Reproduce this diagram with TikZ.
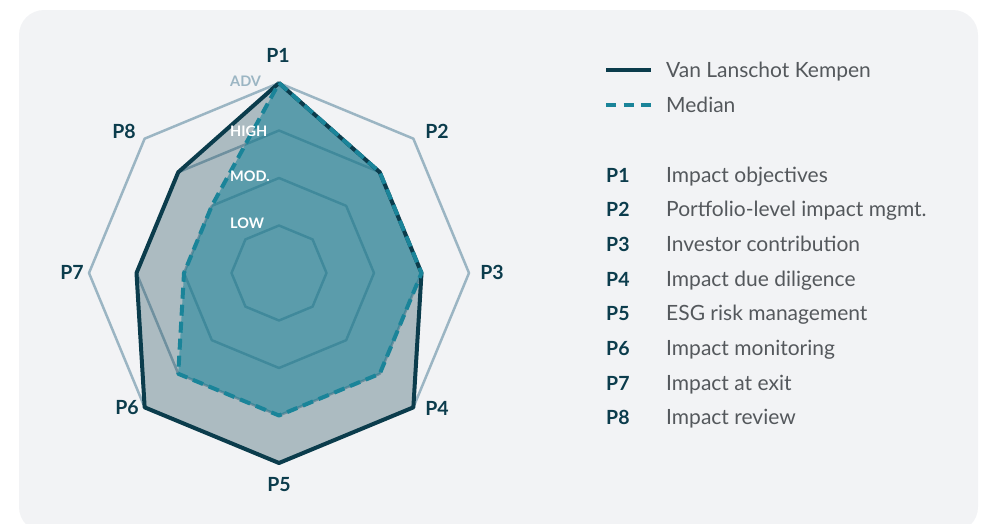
\documentclass[tikz,border=0pt]{standalone}
\usepackage{fontspec}
\setmainfont{Lato}
\usetikzlibrary{calc}
\definecolor{bg}{HTML}{F2F3F5}
\definecolor{dk}{HTML}{0B3C4C}
\definecolor{tl}{HTML}{1A8499}
\definecolor{gridc}{HTML}{9BB5C3}
\definecolor{txt}{HTML}{54585C}
\tikzset{
  gridline/.style={draw=gridc, line width=2.5pt, line join=round},
  vlkfill/.style={fill=dk, fill opacity=0.3},
  medfill/.style={fill=tl, fill opacity=0.55},
  vlkline/.style={draw=dk, line width=4pt, line join=round},
  medline/.style={draw=tl, line width=4pt, dash pattern=on 11pt off 6pt, line join=round},
  axlab/.style={font=\fontsize{19.5}{22}\selectfont\bfseries, text=dk, inner sep=0pt},
  lvlab/.style={font=\fontsize{14.5}{16}\selectfont\bfseries, anchor=base west, inner sep=0pt},
  legkey/.style={font=\fontsize{19.5}{22}\selectfont\bfseries, text=dk, anchor=base west, inner sep=0pt},
  legtxt/.style={font=\fontsize{21}{24}\selectfont, text=txt, anchor=base west, inner sep=0pt}
}
\begin{document}
\begin{tikzpicture}[x=1pt,y=1pt]
\useasboundingbox (0,0) rectangle (982,-523);
\fill[bg, rounded corners=25pt] (19,-10) rectangle (978,-532);
\coordinate (C) at (279,-273);
% grid
\foreach \k in {1,2,3,4}{
  \draw[gridline] ($(C)+(90:47.5*\k)$)
    \foreach \a in {45,0,-45,-90,-135,180,135}{ -- ($(C)+(\a:47.5*\k)$) } -- cycle;
}
% data points
\path ($(C)+(90:190)$) coordinate (v1)
      ($(C)+(45:142.5)$) coordinate (v2)
      ($(C)+(0:142.5)$) coordinate (v3)
      ($(C)+(-45:190)$) coordinate (v4)
      ($(C)+(-90:190)$) coordinate (v5)
      ($(C)+(-135:190)$) coordinate (v6)
      ($(C)+(180:142.5)$) coordinate (v7)
      ($(C)+(135:142.5)$) coordinate (v8);
\path ($(C)+(90:190)$) coordinate (m1)
      ($(C)+(45:142.5)$) coordinate (m2)
      ($(C)+(0:142.5)$) coordinate (m3)
      ($(C)+(-45:142.5)$) coordinate (m4)
      ($(C)+(-90:142.5)$) coordinate (m5)
      ($(C)+(-135:142.5)$) coordinate (m6)
      ($(C)+(180:95)$) coordinate (m7)
      ($(C)+(135:95)$) coordinate (m8);
\fill[vlkfill] (v1)--(v2)--(v3)--(v4)--(v5)--(v6)--(v7)--(v8)--cycle;
\fill[medfill] (m1)--(m2)--(m3)--(m4)--(m5)--(m6)--(m7)--(m8)--cycle;
\draw[vlkline] (v1)--(v2)--(v3)--(v4)--(v5)--(v6)--(v7)--(v8)--cycle;
\draw[medline] (m1)--(m2)--(m3)--(m4)--(m5)--(m6)--(m7)--(m8)--cycle;
% level labels
\node[lvlab, text=gridc] (lA) at (230,-86) {ADV};
\node[lvlab, text=white] (lH) at (230,-136) {HIGH};
\node[lvlab, text=white] (lM) at (230,-181.7) {MOD.};
\node[lvlab, text=white] (lL) at (230,-228.3) {LOW};
% axis labels
\node[axlab] (p1) at (278,-55) {P1};
\node[axlab] (p2) at (437,-131) {P2};
\node[axlab] (p3) at (492,-272) {P3};
\node[axlab] (p4) at (437,-408) {P4};
\node[axlab] (p5) at (279,-485) {P5};
\node[axlab] (p6) at (127,-408) {P6};
\node[axlab] (p7) at (72,-272) {P7};
\node[axlab] (p8) at (124,-131) {P8};
% legend
\coordinate (ls1) at (606,-70); \coordinate (le1) at (651,-70);
\coordinate (ls2) at (606,-105); \coordinate (le2) at (651,-105);
\draw[draw=dk, line width=4pt] (ls1) -- (le1);
\draw[draw=tl, line width=4pt, dash pattern=on 10pt off 7.5pt] (ls2) -- (le2);
\node[legtxt] (t1) at (666,-77.5) {Van Lanschot Kempen};
\node[legtxt] (t2) at (666,-112.5) {Median};
\foreach \i/\t [count=\n from 0] in {1/Impact objectives,2/Portfolio-level impact mgmt.,3/Investor contribution,4/Impact due diligence,5/ESG risk management,6/Impact monitoring,7/Impact at exit,8/Impact review}{
  \node[legkey] (k\i) at (606,-182-34.7*\n) {P\i};
  \node[legtxt] (d\i) at (666,-182-34.7*\n) {\t};
}
\end{tikzpicture}
\end{document}
